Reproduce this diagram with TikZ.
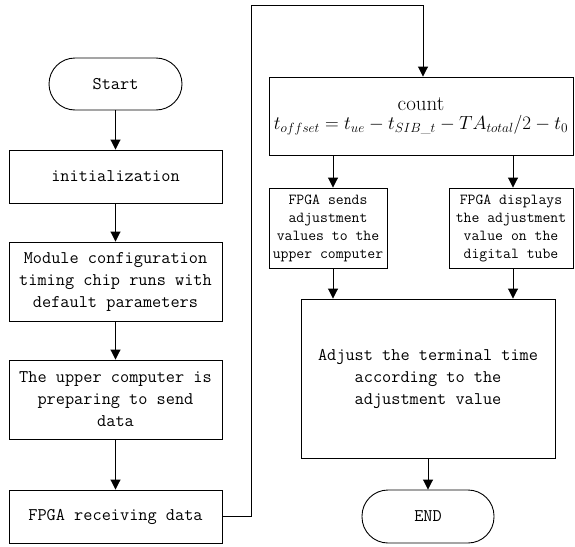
\RequirePackage{fix-cm}
\documentclass[tikz,border=0pt]{standalone}
\usepackage{amsmath}
\usepackage{fontspec}
\usetikzlibrary{arrows.meta}

\tikzset{
  box/.style={draw, line width=0.9pt, align=center, inner sep=0pt,
    font=\ttfamily\fontsize{17.8}{22}\selectfont},
  smallbox/.style={box, font=\ttfamily\fontsize{15.3}{18}\selectfont},
  term/.style={box, rounded corners=26pt},
  arr/.style={line width=0.9pt, -{Triangle[width=10pt,length=10pt]}},
}

\begin{document}
\begin{tikzpicture}[x=1pt, y=-1pt]
  \useasboundingbox (0,0) rectangle (575,546);

  % left column
  \node[term, minimum width=133pt, minimum height=52pt] (start) at (115.5,84) {Start};
  \node[box, minimum width=213pt, minimum height=53pt] (init) at (115.5,176.5) {initialization};
  \node[box, minimum width=213pt, minimum height=79pt] (module) at (115.5,281.5)
    {Module configuration\\timing chip runs with\\default parameters};
  \node[box, minimum width=213pt, minimum height=79pt] (upper) at (115.5,399.5)
    {The upper computer is\\preparing to send\\data};
  \node[box, minimum width=213pt, minimum height=53pt] (recv) at (115.5,516.5)
    {FPGA receiving data};

  % right column
  \node[box, minimum width=304pt, minimum height=78pt, font=\rmfamily] (count) at (421,116)
    {{\fontsize{21}{21}\selectfont count}\\[4pt]
     {\fontsize{19}{21}\selectfont $t_{offset}=t_{ue}-t_{SIB\text{\_}t}-TA_{total}/2-t_0$}};
  \node[smallbox, minimum width=118pt, minimum height=80pt] (send) at (328,228)
    {FPGA sends\\adjustment\\values to the\\upper computer};
  \node[smallbox, minimum width=124pt, minimum height=80pt] (disp) at (511,228)
    {FPGA displays\\the adjustment\\value on the\\digital tube};
  \node[box, minimum width=254pt, minimum height=159pt] (adjust) at (428,378.5)
    {Adjust the terminal time\\according to the\\adjustment value};
  \node[term, minimum width=132pt, minimum height=53pt] (end) at (428,516.5) {END};

  \coordinate (loopL) at (251,5);

  % connectors
  \draw[arr] (start) -- (init);
  \draw[arr] (init) -- (module);
  \draw[arr] (module) -- (upper);
  \draw[arr] (upper) -- (recv);
  \draw[arr] (recv.east) -| (loopL) -| ([xshift=2pt]count.north);
  \draw[arr] ([xshift=5pt]send.north |- count.south) -- ([xshift=5pt]send.north);
  \draw[arr] ([xshift=2pt]disp.north |- count.south) -- ([xshift=2pt]disp.north);
  \draw[arr] ([xshift=5pt]send.south) -- ([xshift=5pt]send.south |- adjust.north);
  \draw[arr] ([xshift=2pt]disp.south) -- ([xshift=2pt]disp.south |- adjust.north);
  \draw[arr] (adjust) -- (end);
\end{tikzpicture}
\end{document}
